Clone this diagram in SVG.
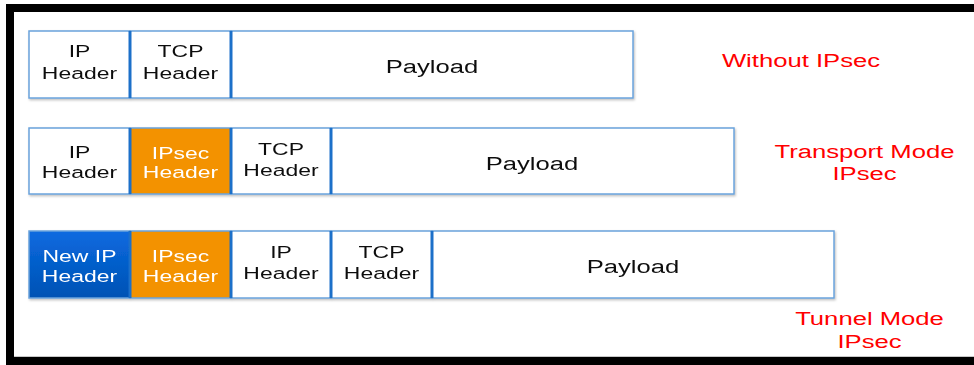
<svg xmlns="http://www.w3.org/2000/svg" width="974" height="365" viewBox="0 0 974 365">
<defs>
  <linearGradient id="blueGrad" x1="0" y1="0" x2="0" y2="1">
    <stop offset="0" stop-color="#0a6ae0"/>
    <stop offset="1" stop-color="#0052b4"/>
  </linearGradient>
  <filter id="sh" x="-5%" y="-10%" width="110%" height="125%">
    <feDropShadow dx="1" dy="1.5" stdDeviation="1" flood-color="#000" flood-opacity="0.25"/>
  </filter>
</defs>
<style>
  .cell { fill: #ffffff; stroke: #6aa3dc; stroke-width: 1.5; }
  .orange { fill: #f39200; stroke: #6aa3dc; stroke-width: 1.5; }
  .blue { fill: url(#blueGrad); stroke: #6aa3dc; stroke-width: 1.5; }
  .div { stroke: #1d6fc9; stroke-width: 3; }
  .t { font-family: "Liberation Sans", Arial, sans-serif; font-size: 17px; fill: #111111; text-anchor: middle; }
  .tw { fill: #ffffff; }
  .pl { font-size: 19px; }
  .red { font-family: "Liberation Sans", Arial, sans-serif; font-size: 19px; fill: #ff0000; text-anchor: middle; }
</style>

<rect x="10" y="8" width="1000" height="353" fill="#ffffff" stroke="#000000" stroke-width="8"/>
<line x1="14" y1="356.5" x2="974" y2="356.5" stroke="#c8c8c8" stroke-width="1"/>

<!-- Row 1: Without IPsec -->
<g id="row1" filter="url(#sh)">
  <g id="r1-ip">
    <rect class="cell" x="29" y="31" width="101" height="67"/>
    <text class="t" transform="translate(79.5,57) scale(1.35,1)"><tspan x="0" y="0">IP</tspan><tspan x="0" y="22">Header</tspan></text>
  </g>
  <g id="r1-tcp">
    <rect class="cell" x="130" y="31" width="101" height="67"/>
    <text class="t" transform="translate(180.5,57) scale(1.35,1)"><tspan x="0" y="0">TCP</tspan><tspan x="0" y="22">Header</tspan></text>
  </g>
  <g id="r1-payload">
    <rect class="cell" x="231" y="31" width="402" height="67"/>
    <text class="t pl" transform="translate(432,73) scale(1.35,1)">Payload</text>
  </g>
  <line class="div" x1="130" y1="31" x2="130" y2="98"/>
  <line class="div" x1="231" y1="31" x2="231" y2="98"/>
</g>
<g id="label1">
  <text class="red" transform="translate(801,67) scale(1.35,1)">Without IPsec</text>
</g>

<!-- Row 2: Transport Mode -->
<g id="row2" filter="url(#sh)">
  <g id="r2-ip">
    <rect class="cell" x="29" y="128" width="101" height="66"/>
    <text class="t" transform="translate(79.5,158) scale(1.35,1)"><tspan x="0" y="0">IP</tspan><tspan x="0" y="20">Header</tspan></text>
  </g>
  <g id="r2-ipsec">
    <rect class="orange" x="130" y="128" width="101" height="66"/>
    <text class="t tw" transform="translate(180.5,159) scale(1.35,1)"><tspan x="0" y="0">IPsec</tspan><tspan x="0" y="19">Header</tspan></text>
  </g>
  <g id="r2-tcp">
    <rect class="cell" x="231" y="128" width="100" height="66"/>
    <text class="t" transform="translate(281,155) scale(1.35,1)"><tspan x="0" y="0">TCP</tspan><tspan x="0" y="21">Header</tspan></text>
  </g>
  <g id="r2-payload">
    <rect class="cell" x="331" y="128" width="403" height="66"/>
    <text class="t pl" transform="translate(532,170) scale(1.35,1)">Payload</text>
  </g>
  <line class="div" x1="130" y1="128" x2="130" y2="194"/>
  <line class="div" x1="231" y1="128" x2="231" y2="194"/>
  <line class="div" x1="331" y1="128" x2="331" y2="194"/>
</g>
<g id="label2">
  <text class="red" transform="translate(864.5,158) scale(1.35,1)"><tspan x="0" y="0">Transport Mode</tspan><tspan x="0" y="22">IPsec</tspan></text>
</g>

<!-- Row 3: Tunnel Mode -->
<g id="row3" filter="url(#sh)">
  <g id="r3-newip">
    <rect class="blue" x="29" y="231" width="101" height="67"/>
    <text class="t tw" transform="translate(79.5,262) scale(1.35,1)"><tspan x="0" y="0">New IP</tspan><tspan x="0" y="20">Header</tspan></text>
  </g>
  <g id="r3-ipsec">
    <rect class="orange" x="130" y="231" width="101" height="67"/>
    <text class="t tw" transform="translate(180.5,262) scale(1.35,1)"><tspan x="0" y="0">IPsec</tspan><tspan x="0" y="20">Header</tspan></text>
  </g>
  <g id="r3-ip">
    <rect class="cell" x="231" y="231" width="100" height="67"/>
    <text class="t" transform="translate(281,258) scale(1.35,1)"><tspan x="0" y="0">IP</tspan><tspan x="0" y="21">Header</tspan></text>
  </g>
  <g id="r3-tcp">
    <rect class="cell" x="331" y="231" width="101" height="67"/>
    <text class="t" transform="translate(381.5,258) scale(1.35,1)"><tspan x="0" y="0">TCP</tspan><tspan x="0" y="21">Header</tspan></text>
  </g>
  <g id="r3-payload">
    <rect class="cell" x="432" y="231" width="402" height="67"/>
    <text class="t pl" transform="translate(633,273) scale(1.35,1)">Payload</text>
  </g>
  <line class="div" x1="130" y1="231" x2="130" y2="298"/>
  <line class="div" x1="231" y1="231" x2="231" y2="298"/>
  <line class="div" x1="331" y1="231" x2="331" y2="298"/>
  <line class="div" x1="432" y1="231" x2="432" y2="298"/>
</g>
<g id="label3">
  <text class="red" transform="translate(869.5,325) scale(1.35,1)"><tspan x="0" y="0">Tunnel Mode</tspan><tspan x="0" y="23">IPsec</tspan></text>
</g>
</svg>
